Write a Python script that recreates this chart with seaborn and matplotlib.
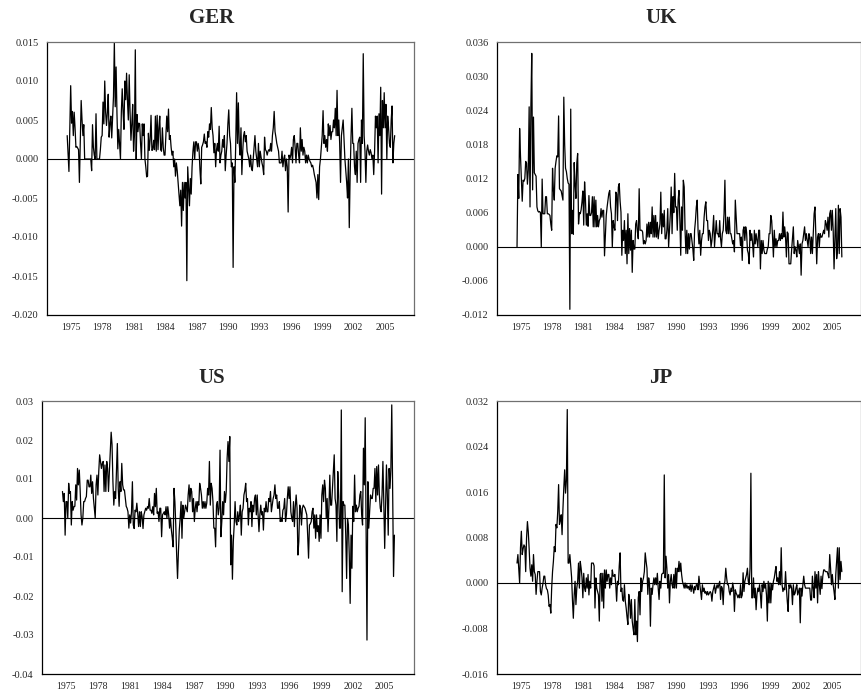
import numpy as np
import pandas as pd
import seaborn as sns
import matplotlib.pyplot as plt
from matplotlib.ticker import FixedLocator, FormatStrFormatter

# monthly series, first observation 1974-09, one row per year
START = "1974-09"

ger = [
    0.0030, 0.0008, -0.0016, 0.0040,
    0.0094, 0.0046, 0.0061, 0.0030, 0.0060, 0.0040, 0.0015, 0.0016, 0.0014, 0.0012, -0.0030, 0.0020,
    0.0075, 0.0050, 0.0030, 0.0044, 0.0000, 0.0000, 0.0000, 0.0000, 0.0000, 0.0000, 0.0000, 0.0000,
    -0.0015, 0.0044, 0.0015, 0.0005, 0.0000, 0.0058, 0.0000, 0.0000, 0.0000, 0.0000, 0.0012, 0.0028,
    0.0030, 0.0073, 0.0045, 0.0100, 0.0060, 0.0043, 0.0060, 0.0083, 0.0028, 0.0045, 0.0055, 0.0027,
    0.0055, 0.0080, 0.0150, 0.0067, 0.0118, 0.0058, 0.0013, 0.0038, 0.0020, 0.0000, 0.0060, 0.0090,
    0.0060, 0.0038, 0.0100, 0.0076, 0.0110, 0.0075, 0.0050, 0.0108, 0.0060, 0.0024, 0.0045, 0.0070,
    0.0010, 0.0030, 0.0140, 0.0000, 0.0057, 0.0035, 0.0046, 0.0045, 0.0020, 0.0000, 0.0045, 0.0030,
    0.0045, 0.0000, -0.0010, -0.0023, -0.0022, 0.0033, 0.0011, 0.0025, 0.0056, 0.0011, 0.0012, 0.0024,
    0.0012, 0.0055, 0.0010, 0.0056, 0.0012, 0.0040, 0.0055, 0.0012, 0.0010, 0.0040, 0.0015, 0.0005,
    0.0005, 0.0030, 0.0055, 0.0035, 0.0064, 0.0025, 0.0030, 0.0015, 0.0005, 0.0010, -0.0010, 0.0000,
    -0.0022, -0.0005, -0.0015, -0.0030, -0.0045, -0.0060, -0.0040, -0.0086, -0.0030, -0.0066, -0.0030, -0.0050,
    -0.0030, -0.0156, -0.0010, -0.0035, -0.0060, -0.0025, -0.0045, -0.0010, 0.0010, 0.0022, 0.0000, 0.0022,
    0.0022, 0.0010, 0.0020, 0.0012, -0.0013, -0.0032, 0.0015, 0.0018, 0.0022, 0.0032, 0.0020, 0.0022,
    0.0015, 0.0035, 0.0028, 0.0045, 0.0038, 0.0066, 0.0040, 0.0030, 0.0008, 0.0020, -0.0010, 0.0012,
    0.0020, 0.0010, 0.0042, -0.0005, 0.0005, 0.0010, 0.0025, 0.0015, 0.0030, -0.0015, 0.0005, 0.0020,
    0.0045, 0.0063, 0.0030, 0.0020, -0.0010, -0.0005, -0.0139, -0.0010, -0.0030, 0.0020, 0.0085, 0.0020,
    0.0072, 0.0020, 0.0005, 0.0040, -0.0020, 0.0010, 0.0030, 0.0035, 0.0022, 0.0030, 0.0010, 0.0005,
    0.0000, -0.0010, 0.0005, -0.0012, -0.0015, 0.0000, 0.0015, 0.0030, 0.0010, 0.0000, -0.0010, 0.0020,
    -0.0010, 0.0010, 0.0002, -0.0005, -0.0010, -0.0020, 0.0028, 0.0012, 0.0010, 0.0005, 0.0010, 0.0012,
    0.0010, 0.0020, 0.0010, 0.0030, 0.0040, 0.0061, 0.0035, 0.0028, 0.0020, 0.0015, 0.0010, -0.0005,
    -0.0005, -0.0005, 0.0010, -0.0010, 0.0000, 0.0005, -0.0015, 0.0000, -0.0010, -0.0068, 0.0005, 0.0000,
    0.0005, 0.0015, -0.0005, 0.0025, 0.0030, 0.0015, -0.0005, 0.0020, 0.0020, 0.0005, -0.0005, 0.0040,
    0.0010, 0.0025, 0.0005, 0.0015, 0.0010, -0.0005, 0.0005, -0.0005, 0.0005, 0.0000, -0.0003, -0.0005,
    -0.0010, -0.0008, -0.0013, -0.0020, -0.0025, -0.0030, -0.0050, -0.0020, -0.0052, -0.0010, 0.0000, 0.0015,
    0.0030, 0.0062, 0.0020, 0.0030, 0.0015, 0.0025, 0.0010, 0.0045, 0.0030, 0.0043, 0.0025, 0.0035,
    0.0035, 0.0050, 0.0040, 0.0065, 0.0030, 0.0088, 0.0030, 0.0050, 0.0020, -0.0030, 0.0030, 0.0040,
    0.0050, 0.0025, 0.0000, -0.0015, -0.0030, -0.0050, 0.0000, -0.0088, -0.0020, 0.0028, 0.0065, 0.0020,
    0.0020, -0.0010, -0.0020, 0.0010, -0.0030, 0.0020, 0.0025, 0.0028, -0.0030, 0.0050, 0.0020, 0.0135,
    0.0030, 0.0010, -0.0030, 0.0010, 0.0018, 0.0010, 0.0005, 0.0012, 0.0008, 0.0000, 0.0005, -0.0020,
    0.0010, 0.0055, 0.0040, 0.0055, -0.0005, 0.0058, 0.0030, 0.0092, -0.0045, 0.0075, 0.0040, 0.0085,
    0.0040, 0.0070, 0.0000, 0.0055, 0.0040, 0.0020, 0.0015, 0.0050, 0.0068, -0.0005, 0.0020, 0.0030,
]

uk = [
    0.0000, 0.0127, 0.0085, 0.0208,
    0.0160, 0.0120, 0.0080, 0.0117, 0.0115, 0.0120, 0.0150, 0.0147, 0.0110, 0.0135, 0.0246, 0.0070,
    0.0246, 0.0340, 0.0100, 0.0228, 0.0130, 0.0127, 0.0124, 0.0070, 0.0063, 0.0061, 0.0062, 0.0060,
    0.0000, 0.0119, 0.0058, 0.0058, 0.0058, 0.0088, 0.0088, 0.0058, 0.0058, 0.0057, 0.0055, 0.0040,
    0.0029, 0.0138, 0.0100, 0.0082, 0.0138, 0.0150, 0.0160, 0.0158, 0.0230, 0.0102, 0.0100, 0.0098,
    0.0090, 0.0082, 0.0263, 0.0180, 0.0138, 0.0132, 0.0120, 0.0112, 0.0110, -0.0110, 0.0242, 0.0023,
    0.0064, 0.0022, 0.0148, 0.0110, 0.0085, 0.0147, 0.0164, 0.0040, 0.0060, 0.0058, 0.0065, 0.0079,
    0.0098, 0.0038, 0.0114, 0.0082, 0.0038, 0.0058, 0.0036, 0.0090, 0.0055, 0.0055, 0.0060, 0.0088,
    0.0035, 0.0088, 0.0035, 0.0082, 0.0035, 0.0055, 0.0035, 0.0046, 0.0050, 0.0067, 0.0052, 0.0064,
    0.0064, -0.0016, 0.0020, 0.0055, 0.0070, 0.0082, 0.0094, 0.0099, 0.0070, 0.0058, 0.0000, 0.0046,
    0.0035, 0.0029, 0.0096, 0.0093, 0.0046, 0.0105, 0.0111, 0.0080, 0.0061, -0.0015, 0.0029, 0.0011,
    0.0046, -0.0012, 0.0029, -0.0030, 0.0058, -0.0012, 0.0032, -0.0006, 0.0029, -0.0045, 0.0011, -0.0004,
    -0.0004, 0.0040, 0.0046, 0.0026, 0.0014, 0.0102, 0.0029, 0.0029, 0.0029, 0.0026, 0.0005, 0.0011,
    0.0005, 0.0011, 0.0040, 0.0017, 0.0043, 0.0017, 0.0043, 0.0023, 0.0070, 0.0017, 0.0055, 0.0017,
    0.0055, 0.0017, 0.0043, 0.0014, 0.0029, 0.0040, 0.0096, 0.0023, 0.0058, 0.0035, 0.0064, 0.0014,
    0.0014, 0.0029, 0.0067, 0.0000, 0.0029, 0.0058, 0.0105, 0.0023, 0.0088, 0.0060, 0.0129, 0.0070,
    0.0070, 0.0029, 0.0082, 0.0099, 0.0046, -0.0015, 0.0070, 0.0029, 0.0117, 0.0105, 0.0029, -0.0012,
    0.0029, -0.0012, 0.0023, -0.0004, 0.0023, 0.0023, 0.0010, -0.0004, -0.0024, 0.0029, 0.0046, 0.0070,
    0.0082, 0.0029, 0.0005, 0.0029, -0.0015, 0.0011, 0.0023, 0.0023, 0.0052, 0.0070, 0.0079, 0.0046,
    0.0046, 0.0011, 0.0029, 0.0023, 0.0000, 0.0011, 0.0029, 0.0055, 0.0000, 0.0023, 0.0046, 0.0023,
    0.0023, 0.0017, 0.0046, 0.0014, 0.0000, 0.0023, 0.0029, 0.0058, 0.0117, 0.0029, 0.0023, 0.0052,
    0.0023, 0.0052, 0.0023, 0.0023, 0.0014, 0.0005, 0.0011, -0.0009, 0.0082, 0.0052, 0.0023, 0.0023,
    0.0023, 0.0023, 0.0002, 0.0017, -0.0024, 0.0029, 0.0035, 0.0011, 0.0035, 0.0026, -0.0006, -0.0012,
    -0.0030, 0.0029, 0.0011, 0.0023, 0.0005, -0.0018, 0.0029, 0.0005, 0.0023, 0.0011, 0.0000, 0.0029,
    0.0029, -0.0039, 0.0011, -0.0012, 0.0011, -0.0006, -0.0012, -0.0012, -0.0012, -0.0004, 0.0000, 0.0023,
    0.0023, 0.0055, 0.0046, 0.0017, -0.0018, 0.0029, 0.0000, 0.0014, 0.0000, 0.0011, 0.0011, 0.0023,
    0.0011, 0.0023, 0.0014, 0.0061, 0.0017, 0.0035, 0.0017, -0.0018, 0.0026, 0.0023, -0.0030, -0.0030,
    -0.0030, -0.0006, 0.0014, 0.0035, -0.0012, 0.0000, -0.0006, -0.0018, 0.0011, 0.0000, -0.0012, 0.0005,
    -0.0050, 0.0005, 0.0011, 0.0023, 0.0035, 0.0011, 0.0023, 0.0011, 0.0000, 0.0023, 0.0017, -0.0012,
    0.0017, -0.0012, 0.0023, 0.0058, 0.0070, 0.0023, -0.0030, 0.0017, 0.0023, 0.0000, 0.0023, 0.0017,
    0.0017, 0.0023, 0.0029, 0.0023, 0.0046, 0.0040, 0.0029, 0.0052, 0.0017, 0.0058, 0.0064, 0.0029,
    0.0064, 0.0029, -0.0039, 0.0017, 0.0067, -0.0021, -0.0006, 0.0073, -0.0012, 0.0067, 0.0052, -0.0018,
]

us = [
    0.0068, 0.0042, 0.0063, -0.0044,
    0.0042, 0.0042, 0.0000, 0.0089, 0.0063, 0.0068, -0.0018, 0.0042, 0.0020, 0.0029, 0.0030, 0.0085,
    0.0046, 0.0127, 0.0085, 0.0123, 0.0070, 0.0008, -0.0018, 0.0000, 0.0042, 0.0042, 0.0050, 0.0055,
    0.0097, 0.0097, 0.0080, 0.0080, 0.0110, 0.0063, 0.0093, 0.0050, 0.0025, 0.0000, 0.0085, 0.0110,
    0.0059, 0.0119, 0.0162, 0.0145, 0.0127, 0.0140, 0.0145, 0.0068, 0.0136, 0.0068, 0.0145, 0.0127,
    0.0068, 0.0120, 0.0170, 0.0220, 0.0188, 0.0093, 0.0033, 0.0068, 0.0050, 0.0120, 0.0191, 0.0076,
    0.0030, 0.0093, 0.0068, 0.0140, 0.0085, 0.0072, 0.0072, 0.0050, 0.0030, 0.0025, 0.0016, -0.0026,
    0.0008, -0.0013, 0.0016, 0.0093, -0.0018, -0.0027, 0.0020, 0.0016, 0.0038, 0.0012, -0.0022, 0.0016,
    -0.0022, 0.0016, 0.0003, -0.0027, 0.0008, 0.0016, 0.0025, 0.0020, 0.0029, 0.0025, 0.0050, 0.0020,
    0.0020, 0.0012, 0.0029, 0.0008, 0.0063, 0.0029, 0.0076, 0.0012, 0.0016, -0.0009, 0.0025, 0.0025,
    -0.0048, 0.0008, 0.0012, 0.0016, 0.0008, 0.0029, 0.0000, 0.0029, 0.0008, -0.0026, 0.0000, -0.0030,
    -0.0050, -0.0074, 0.0076, 0.0042, -0.0018, -0.0095, -0.0155, -0.0086, -0.0030, 0.0000, 0.0042, -0.0052,
    0.0033, 0.0000, 0.0016, 0.0033, 0.0025, 0.0016, 0.0059, 0.0085, 0.0042, 0.0076, 0.0068, 0.0016,
    0.0050, -0.0009, 0.0025, 0.0042, 0.0016, 0.0042, 0.0033, 0.0089, 0.0076, 0.0059, 0.0025, 0.0042,
    0.0025, 0.0042, 0.0025, 0.0038, 0.0076, 0.0059, 0.0145, 0.0033, 0.0089, 0.0076, 0.0042, -0.0026,
    -0.0026, -0.0074, 0.0033, 0.0042, 0.0008, 0.0025, 0.0174, -0.0048, -0.0009, 0.0042, 0.0008, 0.0068,
    0.0040, 0.0068, 0.0153, 0.0196, 0.0145, 0.0209, -0.0120, -0.0044, -0.0157, -0.0060, -0.0018, 0.0042,
    -0.0009, -0.0018, 0.0016, -0.0009, 0.0008, 0.0033, -0.0044, 0.0016, 0.0025, 0.0059, 0.0070, 0.0089,
    0.0042, 0.0050, -0.0018, 0.0025, 0.0016, 0.0042, -0.0022, 0.0033, 0.0016, 0.0050, 0.0059, 0.0008,
    0.0059, 0.0008, -0.0035, 0.0008, 0.0033, 0.0008, 0.0016, -0.0031, 0.0025, 0.0016, 0.0042, 0.0016,
    0.0016, 0.0050, 0.0042, 0.0068, 0.0016, 0.0033, 0.0050, 0.0059, 0.0085, 0.0050, 0.0059, 0.0025,
    0.0025, 0.0042, -0.0009, 0.0000, -0.0009, 0.0020, 0.0025, 0.0050, -0.0009, 0.0008, 0.0050, 0.0080,
    0.0050, 0.0080, 0.0016, 0.0000, -0.0009, 0.0042, -0.0022, 0.0029, 0.0059, 0.0025, -0.0095, -0.0060,
    0.0033, 0.0025, -0.0018, 0.0025, 0.0033, 0.0029, 0.0025, 0.0016, 0.0008, -0.0044, -0.0103, -0.0018,
    -0.0015, -0.0009, 0.0016, 0.0025, -0.0026, 0.0008, -0.0052, 0.0008, -0.0035, -0.0020, -0.0060, 0.0008,
    -0.0052, 0.0059, 0.0085, 0.0042, 0.0097, 0.0076, 0.0000, 0.0050, -0.0035, 0.0025, 0.0110, 0.0033,
    0.0033, 0.0076, 0.0120, 0.0162, 0.0050, 0.0033, -0.0060, 0.0119, 0.0059, -0.0026, -0.0026, 0.0277,
    -0.0189, 0.0042, 0.0033, 0.0033, -0.0044, -0.0155, -0.0001, -0.0018, -0.0095, -0.0219, -0.0044, -0.0129,
    0.0030, -0.0009, 0.0110, 0.0016, 0.0033, 0.0016, 0.0025, 0.0030, 0.0059, 0.0068, 0.0008, -0.0018,
    0.0179, 0.0085, 0.0257, -0.0026, -0.0313, 0.0093, -0.0026, 0.0016, 0.0059, 0.0050, 0.0050, 0.0076,
    0.0076, 0.0127, 0.0042, 0.0132, 0.0059, 0.0136, 0.0060, 0.0025, 0.0016, 0.0059, 0.0145, 0.0042,
    -0.0078, 0.0025, 0.0136, 0.0059, -0.0044, 0.0127, 0.0076, 0.0127, 0.0290, 0.0076, -0.0150, -0.0044,
]

jp = [
    0.0035, 0.0050, 0.0026, 0.0000,
    0.0062, 0.0091, 0.0050, 0.0060, 0.0067, 0.0064, 0.0020, 0.0079, 0.0108, 0.0090, 0.0060, 0.0026,
    0.0012, 0.0032, 0.0003, 0.0050, 0.0020, 0.0015, -0.0020, 0.0003, 0.0020, 0.0020, 0.0020, -0.0015,
    -0.0021, -0.0009, 0.0000, 0.0012, 0.0012, -0.0003, -0.0010, -0.0012, -0.0021, -0.0041, -0.0038, -0.0053,
    -0.0009, 0.0020, 0.0038, 0.0064, 0.0055, 0.0103, 0.0097, 0.0126, 0.0173, 0.0103, 0.0110, 0.0120,
    0.0085, 0.0130, 0.0167, 0.0199, 0.0158, 0.0180, 0.0305, 0.0035, 0.0035, 0.0050, 0.0030, 0.0010,
    -0.0030, -0.0062, -0.0021, 0.0003, -0.0038, -0.0009, 0.0003, 0.0035, -0.0009, 0.0038, 0.0026, 0.0010,
    -0.0026, 0.0017, -0.0009, -0.0015, 0.0009, -0.0009, 0.0015, -0.0021, 0.0003, -0.0009, 0.0035, 0.0035,
    0.0035, 0.0030, -0.0044, 0.0009, -0.0009, -0.0015, -0.0021, -0.0067, 0.0015, 0.0017, -0.0032, 0.0017,
    -0.0044, 0.0023, -0.0009, 0.0023, 0.0003, 0.0015, 0.0015, -0.0009, 0.0009, -0.0003, 0.0023, 0.0012,
    0.0012, 0.0015, -0.0003, -0.0032, 0.0003, -0.0003, 0.0030, 0.0053, -0.0015, -0.0009, -0.0030, -0.0032,
    -0.0003, -0.0032, -0.0044, -0.0060, -0.0073, -0.0020, -0.0032, -0.0062, -0.0029, -0.0067, -0.0080, -0.0091,
    -0.0029, -0.0091, -0.0067, -0.0103, -0.0026, -0.0015, -0.0056, 0.0009, -0.0015, 0.0003, 0.0009, 0.0020,
    0.0053, 0.0038, 0.0026, -0.0020, 0.0009, -0.0003, -0.0076, -0.0009, -0.0020, -0.0003, 0.0009, -0.0003,
    0.0009, -0.0003, 0.0017, -0.0009, -0.0029, 0.0003, -0.0009, 0.0015, 0.0017, 0.0017, 0.0190, 0.0009,
    0.0047, 0.0026, -0.0009, 0.0015, -0.0035, 0.0003, 0.0015, -0.0003, -0.0009, 0.0015, -0.0009, 0.0026,
    -0.0009, 0.0026, 0.0020, 0.0038, 0.0020, 0.0035, 0.0015, 0.0003, -0.0003, -0.0009, 0.0000, -0.0009,
    -0.0003, -0.0009, -0.0006, -0.0012, -0.0003, -0.0015, -0.0003, -0.0009, -0.0018, -0.0006, -0.0012, -0.0003,
    -0.0003, -0.0012, 0.0012, -0.0003, -0.0015, -0.0029, -0.0003, -0.0015, -0.0009, -0.0018, -0.0015, -0.0021,
    -0.0015, -0.0021, -0.0018, -0.0015, -0.0018, -0.0032, -0.0015, -0.0009, -0.0003, -0.0018, -0.0009, -0.0003,
    -0.0009, -0.0003, 0.0003, -0.0029, -0.0006, -0.0009, -0.0038, -0.0003, 0.0003, 0.0026, 0.0009, -0.0003,
    -0.0003, -0.0015, -0.0021, -0.0009, -0.0015, 0.0000, -0.0009, -0.0050, -0.0012, -0.0018, -0.0021, -0.0026,
    -0.0021, -0.0026, -0.0003, -0.0026, -0.0021, 0.0018, -0.0015, 0.0003, 0.0009, 0.0015, 0.0026, 0.0003,
    -0.0003, 0.0026, 0.0193, -0.0026, -0.0026, 0.0009, -0.0026, -0.0009, -0.0047, -0.0020, -0.0009, -0.0015,
    -0.0003, -0.0021, -0.0044, -0.0003, -0.0015, 0.0003, -0.0009, -0.0003, -0.0021, -0.0067, 0.0003, -0.0035,
    0.0000, -0.0035, -0.0003, -0.0012, 0.0003, 0.0009, 0.0020, 0.0029, 0.0003, 0.0009, -0.0003, 0.0020,
    -0.0003, 0.0062, -0.0003, -0.0015, -0.0009, -0.0012, 0.0020, -0.0009, -0.0032, -0.0050, -0.0003, -0.0009,
    -0.0003, -0.0009, -0.0038, -0.0003, -0.0021, -0.0018, -0.0009, -0.0003, -0.0021, -0.0015, -0.0009, -0.0070,
    -0.0009, -0.0023, -0.0003, 0.0012, -0.0003, -0.0009, -0.0009, -0.0009, -0.0009, -0.0009, -0.0009, -0.0030,
    -0.0030, 0.0012, -0.0009, -0.0026, 0.0020, -0.0009, 0.0015, -0.0035, 0.0020, -0.0003, -0.0020, 0.0012,
    -0.0010, 0.0012, 0.0023, 0.0023, 0.0020, 0.0020, 0.0020, 0.0015, 0.0009, 0.0050, 0.0026, -0.0003,
    0.0015, -0.0003, -0.0015, -0.0029, 0.0015, 0.0038, 0.0062, -0.0009, 0.0062, 0.0006, 0.0038, 0.0020,
]

year_ticks = list(range(1975, 2006, 3))


def to_frame(values):
    """Monthly values -> frame with decimal-year time axis."""
    months = pd.period_range(START, periods=len(values), freq="M")
    t = months.year + (months.month - 1) / 12.0
    return pd.DataFrame({"t": t, "value": values})


def draw_panel(ax, values, ylim, ystep, fmt):
    df = to_frame(values)
    ax.axhline(0, color="black", linewidth=0.8, zorder=1)
    sns.lineplot(data=df, x="t", y="value", ax=ax, color="black",
                 linewidth=0.9, estimator=None, zorder=2)
    ax.set_xlim(1972.74, 2007.76)
    ax.set_ylim(*ylim)
    ax.set_yticks(np.arange(ylim[0], ylim[1] + ystep / 2, ystep))
    ax.yaxis.set_major_formatter(FormatStrFormatter(fmt))
    ax.xaxis.set_major_locator(FixedLocator(year_ticks))
    ax.xaxis.set_minor_locator(FixedLocator(range(1975, 2006)))
    ax.set_xticklabels([str(y) for y in year_ticks])
    ax.set_xlabel("")
    ax.set_ylabel("")
    ax.tick_params(axis="both", which="both", direction="out", length=4,
                   width=0.8, color="black", pad=2)
    ax.tick_params(axis="x", labelsize=7)
    ax.tick_params(axis="y", labelsize=7.5)
    for side in ["left", "bottom"]:
        ax.spines[side].set_color("black")
        ax.spines[side].set_linewidth(0.9)
    for side in ["top", "right"]:
        ax.spines[side].set_color("#707070")
        ax.spines[side].set_linewidth(0.9)


sns.set_theme(style="white")
plt.rcParams["font.family"] = ["Liberation Serif", "DejaVu Serif"]
plt.rcParams["axes.unicode_minus"] = False

W, H = 862, 697
fig = plt.figure(figsize=(W / 100, H / 100), dpi=100)


def rect(left, right, top, bottom):
    return [left / W, 1 - bottom / H, (right - left) / W, (bottom - top) / H]


panels = [
    ("GER", ger, (-0.020, 0.015), 0.005, "%.3f", rect(47, 414, 42, 315), (212, 18)),
    ("UK", uk, (-0.012, 0.036), 0.006, "%.3f", rect(497, 861, 42, 315), (661, 18)),
    ("US", us, (-0.04, 0.03), 0.01, "%.2f", rect(42, 414, 401, 674), (212, 378)),
    ("JP", jp, (-0.016, 0.032), 0.008, "%.3f", rect(497, 861, 401, 674), (661, 378)),
]

for name, vals, ylim, ystep, fmt, box, title_xy in panels:
    ax = fig.add_axes(box)
    draw_panel(ax, vals, ylim, ystep, fmt)
    fig.text(title_xy[0] / W, 1 - title_xy[1] / H, name, ha="center", va="center",
             fontsize=15, fontweight="bold")

fig.savefig("out.png", dpi=100)
